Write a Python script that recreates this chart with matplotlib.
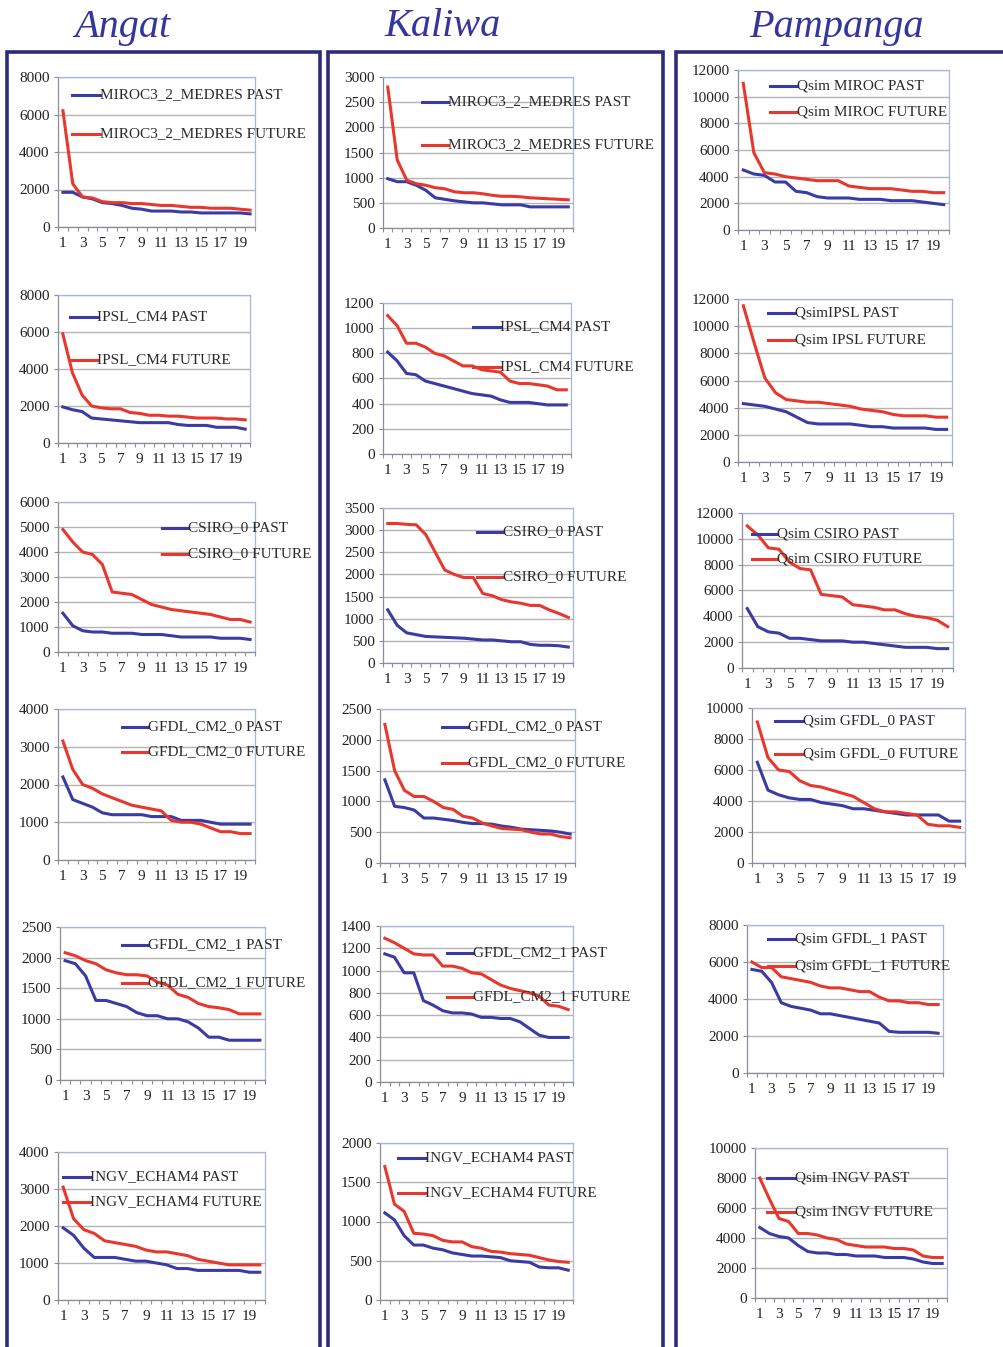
import numpy as np
import matplotlib.pyplot as plt
from matplotlib.patches import Rectangle

plt.rcParams['font.family'] = ['Liberation Serif', 'DejaVu Serif']

days = np.arange(1, 21)

# Angat
angat_miroc_past = [1850, 1850, 1600, 1500, 1300, 1250, 1150, 1000, 950, 850, 850, 850, 800, 800, 750, 750, 750, 750, 750, 700]
angat_miroc_future = [6200, 2300, 1600, 1550, 1350, 1300, 1300, 1250, 1250, 1200, 1150, 1150, 1100, 1050, 1050, 1000, 1000, 1000, 950, 900]
angat_ipsl_past = [1950, 1800, 1700, 1350, 1300, 1250, 1200, 1150, 1100, 1100, 1100, 1100, 1000, 950, 950, 950, 850, 850, 850, 750]
angat_ipsl_future = [5900, 3800, 2600, 2000, 1900, 1850, 1850, 1650, 1600, 1500, 1500, 1450, 1450, 1400, 1350, 1350, 1350, 1300, 1300, 1250]
angat_csiro_past = [1550, 1050, 850, 800, 800, 750, 750, 750, 700, 700, 700, 650, 600, 600, 600, 600, 550, 550, 550, 500]
angat_csiro_future = [4900, 4400, 4000, 3900, 3500, 2400, 2350, 2300, 2100, 1900, 1800, 1700, 1650, 1600, 1550, 1500, 1400, 1300, 1300, 1200]
angat_gfdl0_past = [2200, 1600, 1500, 1400, 1250, 1200, 1200, 1200, 1200, 1150, 1150, 1150, 1050, 1050, 1050, 1000, 950, 950, 950, 950]
angat_gfdl0_future = [3150, 2400, 2000, 1900, 1750, 1650, 1550, 1450, 1400, 1350, 1300, 1050, 1000, 1000, 950, 850, 750, 750, 700, 700]
angat_gfdl1_past = [1950, 1900, 1700, 1300, 1300, 1250, 1200, 1100, 1050, 1050, 1000, 1000, 950, 850, 700, 700, 650, 650, 650, 650]
angat_gfdl1_future = [2080, 2030, 1950, 1900, 1800, 1750, 1720, 1720, 1700, 1600, 1550, 1400, 1350, 1250, 1200, 1180, 1150, 1080, 1080, 1080]
angat_ingv_past = [1950, 1750, 1400, 1150, 1150, 1150, 1100, 1050, 1050, 1000, 950, 850, 850, 800, 800, 800, 800, 800, 750, 750]
angat_ingv_future = [3050, 2200, 1900, 1800, 1600, 1550, 1500, 1450, 1350, 1300, 1300, 1250, 1200, 1100, 1050, 1000, 950, 950, 950, 950]

# Kaliwa
kaliwa_miroc_past = [980, 920, 920, 850, 750, 600, 570, 540, 520, 500, 500, 480, 460, 460, 460, 420, 420, 420, 420, 420]
kaliwa_miroc_future = [2800, 1350, 950, 880, 850, 800, 780, 720, 700, 700, 680, 650, 630, 630, 620, 600, 590, 580, 570, 560]
kaliwa_ipsl_past = [810, 740, 640, 630, 580, 560, 540, 520, 500, 480, 470, 460, 430, 410, 410, 410, 400, 390, 390, 390]
kaliwa_ipsl_future = [1100, 1020, 880, 880, 850, 800, 780, 740, 700, 700, 670, 660, 650, 580, 560, 560, 550, 540, 510, 510]
kaliwa_csiro_past = [1200, 850, 680, 640, 600, 590, 580, 570, 560, 540, 520, 520, 500, 480, 480, 420, 400, 400, 390, 360]
kaliwa_csiro_future = [3150, 3150, 3130, 3120, 2900, 2500, 2100, 2000, 1930, 1930, 1570, 1520, 1430, 1380, 1350, 1300, 1300, 1200, 1120, 1030]
kaliwa_gfdl0_past = [1350, 920, 900, 860, 730, 730, 710, 690, 660, 640, 640, 630, 600, 580, 550, 540, 530, 520, 500, 470]
kaliwa_gfdl0_future = [2250, 1500, 1180, 1080, 1080, 1000, 900, 870, 760, 730, 650, 600, 560, 550, 540, 500, 470, 470, 430, 410]
kaliwa_gfdl1_past = [1150, 1120, 980, 980, 730, 690, 640, 620, 620, 610, 580, 580, 570, 570, 540, 480, 420, 400, 400, 400]
kaliwa_gfdl1_future = [1290, 1250, 1200, 1150, 1140, 1140, 1040, 1040, 1020, 980, 970, 920, 870, 840, 820, 800, 770, 690, 680, 650]
kaliwa_ingv_past = [1110, 1020, 820, 700, 700, 660, 640, 600, 580, 560, 560, 550, 540, 500, 490, 480, 420, 410, 410, 380]
kaliwa_ingv_future = [1700, 1220, 1130, 850, 840, 820, 760, 740, 740, 680, 660, 620, 610, 590, 580, 570, 540, 510, 490, 480]

# Pampanga
pamp_miroc_past = [4500, 4200, 4100, 3600, 3600, 2900, 2800, 2500, 2400, 2400, 2400, 2300, 2300, 2300, 2200, 2200, 2200, 2100, 2000, 1900]
pamp_miroc_future = [11000, 5800, 4300, 4200, 4000, 3900, 3800, 3700, 3700, 3700, 3300, 3200, 3100, 3100, 3100, 3000, 2900, 2900, 2800, 2800]
pamp_ipsl_past = [4300, 4200, 4100, 3900, 3700, 3300, 2900, 2800, 2800, 2800, 2800, 2700, 2600, 2600, 2500, 2500, 2500, 2500, 2400, 2400]
pamp_ipsl_future = [11500, 8800, 6200, 5100, 4600, 4500, 4400, 4400, 4300, 4200, 4100, 3900, 3800, 3700, 3500, 3400, 3400, 3400, 3300, 3300]
pamp_csiro_past = [4600, 3200, 2800, 2700, 2300, 2300, 2200, 2100, 2100, 2100, 2000, 2000, 1900, 1800, 1700, 1600, 1600, 1600, 1500, 1500]
pamp_csiro_future = [11000, 10300, 9300, 9200, 8200, 7700, 7600, 5700, 5600, 5500, 4900, 4800, 4700, 4500, 4500, 4200, 4000, 3900, 3700, 3200]
pamp_gfdl0_past = [6500, 4700, 4400, 4200, 4100, 4100, 3900, 3800, 3700, 3500, 3500, 3400, 3300, 3200, 3100, 3100, 3100, 3100, 2700, 2700]
pamp_gfdl0_future = [9100, 6800, 6000, 5900, 5300, 5000, 4900, 4700, 4500, 4300, 3900, 3500, 3300, 3300, 3200, 3100, 2500, 2400, 2400, 2300]
pamp_gfdl1_past = [5600, 5500, 4900, 3800, 3600, 3500, 3400, 3200, 3200, 3100, 3000, 2900, 2800, 2700, 2250, 2200, 2200, 2200, 2200, 2150]
pamp_gfdl1_future = [6000, 5700, 5700, 5200, 5100, 5000, 4900, 4700, 4600, 4600, 4500, 4400, 4400, 4100, 3900, 3900, 3800, 3800, 3700, 3700]
pamp_ingv_past = [4700, 4300, 4100, 4000, 3500, 3100, 3000, 3000, 2900, 2900, 2800, 2800, 2800, 2700, 2700, 2700, 2600, 2400, 2300, 2300]
pamp_ingv_future = [8000, 6600, 5300, 5100, 4300, 4300, 4200, 4000, 3900, 3600, 3500, 3400, 3400, 3400, 3300, 3300, 3200, 2800, 2700, 2700]

basins = ['Angat', 'Kaliwa', 'Pampanga']
basin_x = [122, 443, 836]

angat_labels = ['MIROC3_2_MEDRES', 'IPSL_CM4', 'CSIRO_0', 'GFDL_CM2_0', 'GFDL_CM2_1', 'INGV_ECHAM4']
pamp_labels = ['Qsim MIROC', 'QsimIPSL', 'Qsim CSIRO', 'Qsim GFDL_0', 'Qsim GFDL_1', 'Qsim INGV']
pamp_future_labels = ['Qsim MIROC', 'Qsim IPSL', 'Qsim CSIRO', 'Qsim GFDL_0', 'Qsim GFDL_1', 'Qsim INGV']

# (ymax, ystep)
angat_scales = [(8000, 2000), (8000, 2000), (6000, 1000), (4000, 1000), (2500, 500), (4000, 1000)]
kaliwa_scales = [(3000, 500), (1200, 200), (3500, 500), (2500, 500), (1400, 200), (2000, 500)]
pamp_scales = [(12000, 2000), (12000, 2000), (12000, 2000), (10000, 2000), (8000, 2000), (10000, 2000)]

series = [
    [(angat_miroc_past, angat_miroc_future), (angat_ipsl_past, angat_ipsl_future),
     (angat_csiro_past, angat_csiro_future), (angat_gfdl0_past, angat_gfdl0_future),
     (angat_gfdl1_past, angat_gfdl1_future), (angat_ingv_past, angat_ingv_future)],
    [(kaliwa_miroc_past, kaliwa_miroc_future), (kaliwa_ipsl_past, kaliwa_ipsl_future),
     (kaliwa_csiro_past, kaliwa_csiro_future), (kaliwa_gfdl0_past, kaliwa_gfdl0_future),
     (kaliwa_gfdl1_past, kaliwa_gfdl1_future), (kaliwa_ingv_past, kaliwa_ingv_future)],
    [(pamp_miroc_past, pamp_miroc_future), (pamp_ipsl_past, pamp_ipsl_future),
     (pamp_csiro_past, pamp_csiro_future), (pamp_gfdl0_past, pamp_gfdl0_future),
     (pamp_gfdl1_past, pamp_gfdl1_future), (pamp_ingv_past, pamp_ingv_future)],
]
scales = [angat_scales, kaliwa_scales, pamp_scales]

# plot boxes in pixels: left, top, right, bottom
boxes = [
    [(58, 77, 255, 227), (58, 295, 250, 443), (58, 502, 255, 652),
     (58, 709, 255, 860), (60, 927, 265, 1080), (58, 1152, 265, 1300)],
    [(383, 77, 573, 228), (383, 303, 571, 454), (383, 508, 573, 663),
     (380, 709, 575, 863), (380, 926, 573, 1082), (380, 1143, 573, 1300)],
    [(738, 70, 949, 230), (738, 299, 952, 462), (742, 513, 953, 668),
     (752, 708, 965, 863), (747, 925, 943, 1073), (755, 1148, 947, 1298)],
]
# legend line start, line end, y past, y future (pixels)
legends = [
    [(72, 100, 95, 134), (70, 97, 317, 360), (162, 188, 528, 554),
     (122, 148, 727, 752), (122, 148, 945, 983), (63, 90, 1177, 1202)],
    [(422, 448, 102, 145), (473, 500, 327, 367), (477, 503, 532, 577),
     (442, 468, 727, 763), (447, 473, 953, 997), (398, 425, 1158, 1193)],
    [(770, 797, 86, 112), (768, 795, 313, 340), (752, 777, 534, 559),
     (775, 803, 721, 754), (768, 795, 939, 966), (767, 795, 1178, 1212)],
]

W, H = 1004, 1347
BLUE = '#3b3ba6'
RED = '#e8372c'
GRID = '#b4b4b4'
FRAME = '#a8b6dc'
NAVY = '#2c2c78'

fig = plt.figure(figsize=(W / 100, H / 100), dpi=100)

# column frames
for x0, x1 in [(7, 320), (328, 663), (676, 1012)]:
    fig.patches.append(Rectangle((x0 / W, -0.01), (x1 - x0) / W, 1.01 - 52 / H,
                                 transform=fig.transFigure, fill=False,
                                 edgecolor=NAVY, linewidth=2.6))

for name, bx in zip(basins, basin_x):
    fig.text(bx / W, 1 - 27 / H, name, ha='center', va='center', fontsize=29,
             style='italic', color='#3535a0')

for c in range(3):
    for r in range(6):
        l, t, rgt, b = boxes[c][r]
        ax = fig.add_axes([l / W, 1 - b / H, (rgt - l) / W, (b - t) / H])
        past, future = series[c][r]
        ymax, step = scales[c][r]
        ax.plot(days, past, color=BLUE, lw=2.2, zorder=3)
        ax.plot(days, future, color=RED, lw=2.2, zorder=3)
        ax.set_xlim(0.5, 20.5)
        ax.set_ylim(0, ymax)
        ax.set_yticks(np.arange(0, ymax + 1, step))
        ax.set_xticks(np.arange(1, 21, 2))
        ax.set_xticks(np.arange(0.5, 21, 1), minor=True)
        ax.yaxis.grid(True, color=GRID, lw=1.0, zorder=0)
        ax.set_axisbelow(True)
        for s in ax.spines.values():
            s.set_color(FRAME)
            s.set_linewidth(0.9)
        ax.spines['left'].set_color('#8c8c9c')
        ax.spines['bottom'].set_color('#8c8c9c')
        ax.tick_params(axis='y', length=3, width=0.8, color='#8c8c9c',
                       labelsize=11, pad=3, labelcolor='#222222')
        ax.tick_params(axis='x', which='major', length=0, labelsize=11, pad=7,
                       labelcolor='#222222')
        ax.tick_params(axis='x', which='minor', length=3, width=0.8, color='#8c8c9c')

        # legend entries
        x0, x1, yp, yf = legends[c][r]
        if c == 0 or c == 1:
            lab_p = angat_labels[r] + ' PAST'
            lab_f = angat_labels[r] + ' FUTURE'
        else:
            lab_p = pamp_labels[r] + ' PAST'
            lab_f = pamp_future_labels[r] + ' FUTURE'
        for y, col, lab in [(yp, BLUE, lab_p), (yf, RED, lab_f)]:
            fig.add_artist(plt.Line2D([x0 / W, x1 / W], [1 - y / H, 1 - y / H],
                                      transform=fig.transFigure, color=col, lw=2.2))
            fig.text(x1 / W, 1 - y / H, lab, ha='left', va='center',
                     fontsize=11, color='#2a2a2a')

fig.savefig('out.png', dpi=100, facecolor='white')
